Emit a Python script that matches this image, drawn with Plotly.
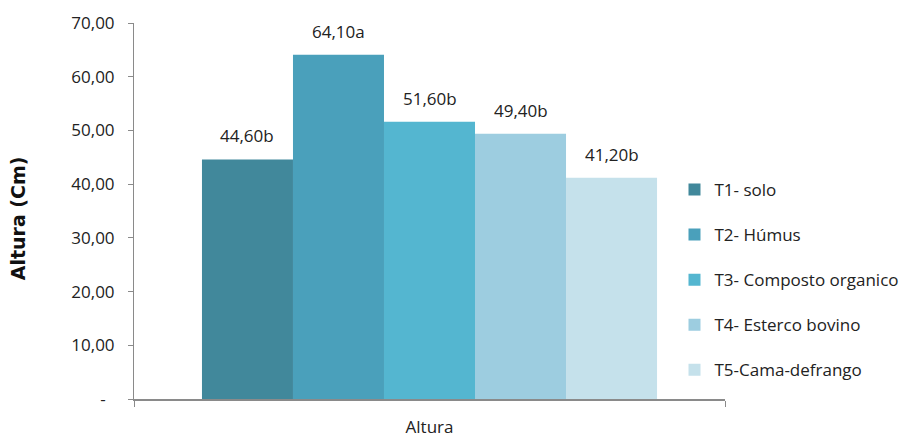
import plotly.graph_objects as go

categories = ["Altura"]
series_names = ["T1- solo", "T2- Húmus", "T3- Composto organico", "T4- Esterco bovino", "T5-Cama-defrango"]
values = [44.60, 64.10, 51.60, 49.40, 41.20]
letters = ["b", "a", "b", "b", "b"]
colors = ["#41889b", "#4aa0bb", "#54b6d0", "#9dcde0", "#c5e1eb"]
tick_vals = [0, 10, 20, 30, 40, 50, 60, 70]
tick_text = ["-\u00a0\u00a0", "10,00", "20,00", "30,00", "40,00", "50,00", "60,00", "70,00"]

FONT = "Open Sans, sans-serif"
BARGAP = 0.23

fig = go.Figure()
for name, v, c in zip(series_names, values, colors):
    fig.add_trace(go.Bar(
        x=categories, y=[v], name=name, marker=dict(color=c, line=dict(width=0)),
        legendgroup=name,
    ))

# value labels above each bar (positions derived from the grouped-bar layout)
n = len(values)
group_w = 1 - BARGAP
bar_w = group_w / n
for i, (v, l) in enumerate(zip(values, letters)):
    fig.add_annotation(
        x=-group_w / 2 + (i + 0.5) * bar_w, y=v, xref="x", yref="y",
        text=f"{v:.2f}".replace(".", ",") + l, showarrow=False,
        yanchor="bottom", yshift=10,
        font=dict(size=17, family=FONT, color="#222222"),
    )

fig.add_annotation(
    x=-0.196, y=0.481, xref="paper", yref="paper", textangle=-90,
    text="<b>Altura (Cm)</b>", showarrow=False, xanchor="center", yanchor="middle",
    font=dict(size=19, family="DejaVu Sans, sans-serif", color="#111111"),
)

fig.update_layout(
    width=908, height=439,
    margin=dict(l=126, r=190, t=15, b=48),
    paper_bgcolor="white", plot_bgcolor="white",
    barmode="group", bargap=BARGAP, bargroupgap=0,
    font=dict(family=FONT, size=16, color="#222222"),
    showlegend=True,
    legend=dict(x=0.913, y=0.604, xanchor="left", yanchor="top",
                font=dict(size=17, family=FONT, color="#222222"),
                tracegroupgap=20, itemwidth=30, bgcolor="rgba(0,0,0,0)"),
    xaxis=dict(showline=True, linecolor="#8a8a8a", linewidth=1.5, automargin=False,
               ticks="outside", tickson="boundaries", ticklen=6, tickcolor="#8a8a8a",
               ticklabelstandoff=12, range=[-0.5, 0.5],
               tickfont=dict(size=17, family=FONT)),
    yaxis=dict(range=[0, 70], tickvals=tick_vals, ticktext=tick_text, automargin=False,
               showline=True, linecolor="#8a8a8a", linewidth=1,
               ticks="outside", ticklen=5, tickcolor="#8a8a8a",
               ticklabelstandoff=10,
               showgrid=False, zeroline=False,
               tickfont=dict(size=17, family=FONT)),
)

fig.write_html("out.html")
